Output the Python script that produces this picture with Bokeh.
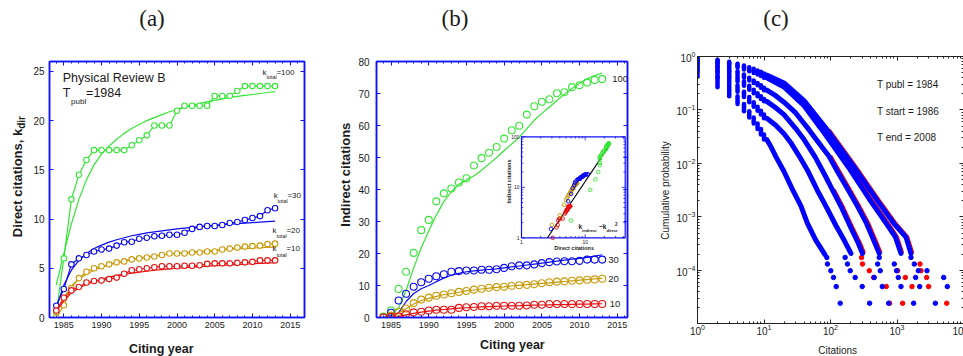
import math
from bokeh.plotting import figure
from bokeh.layouts import row, column
from bokeh.models import (Range1d, LogScale, LinearAxis, LogAxis, SingleIntervalTicker,
                          LogTicker, CustomJSTickFormatter)
from bokeh.embed import file_html
from bokeh.resources import INLINE
from bokeh.core.properties import value

SANS = "Liberation Sans"
SERIF = "Liberation Serif"
FRAME_BLUE = "#1010ff"
GREEN = "#33e633"
BLUE = "#0a0af0"
GOLD = "#c99a08"
RED = "#e81010"
INK = "#1a1a1a"
C_BLUE = "#0000ff"
C_RED = "#ff0000"

# ---------------- data ----------------
years = list(range(1984, 2014))

# (a) direct citations
dir_k100 = [0.5, 6, 12, 14.5, 16, 17, 17, 17, 17, 17, 17.5, 18, 18.5, 19.5, 19.5, 19.5, 21, 21.5,
            21.5, 21.5, 21.5, 22.5, 22.5, 22.5, 23, 23.5, 23.5, 23.5, 23.5, 23.5]
dir_k100_fit = [3.3, 6.5, 9.5, 12.0, 14.0, 15.5, 16.6, 17.4, 18.1, 18.7, 19.2, 19.6, 20.0, 20.3, 20.6,
                20.9, 21.1, 21.35, 21.55, 21.75, 21.9, 22.05, 22.2, 22.35, 22.45, 22.55, 22.65, 22.75,
                22.85, 22.95]
dir_k30 = [1.2, 2.9, 5.4, 6.0, 6.35, 6.7, 6.9, 7.0, 7.3, 7.65, 7.7, 8.0, 8.1, 8.25, 8.3, 8.4, 8.4, 8.6,
           9.0, 9.2, 9.3, 9.3, 9.4, 9.6, 9.7, 9.9, 10.1, 10.3, 10.9, 11.1]
dir_k30_fit = [1.0, 3.3, 4.8, 5.8, 6.5, 7.0, 7.35, 7.65, 7.9, 8.1, 8.3, 8.45, 8.6, 8.7, 8.8, 8.9, 9.0,
               9.08, 9.15, 9.22, 9.3, 9.36, 9.42, 9.48, 9.53, 9.58, 9.63, 9.68, 9.73, 9.78]
dir_k20 = [0.0, 1.25, 3.0, 4.0, 4.65, 5.0, 5.2, 5.4, 5.6, 5.7, 5.9, 6.0, 6.1, 6.2, 6.35, 6.5, 6.5, 6.5,
           6.6, 6.6, 6.7, 6.7, 6.9, 7.0, 7.1, 7.2, 7.25, 7.3, 7.45, 7.5]
dir_k20_fit = [0.6, 2.0, 3.2, 3.9, 4.4, 4.8, 5.1, 5.35, 5.55, 5.75, 5.9, 6.05, 6.15, 6.25, 6.35, 6.45,
               6.52, 6.6, 6.66, 6.72, 6.78, 6.83, 6.88, 6.93, 6.97, 7.01, 7.05, 7.09, 7.12, 7.15]
dir_k10 = [0.7, 2.0, 2.75, 3.1, 3.55, 3.7, 3.77, 3.9, 4.05, 4.45, 4.8, 4.9, 5.0, 5.1, 5.2, 5.2, 5.2,
           5.25, 5.25, 5.3, 5.45, 5.5, 5.5, 5.5, 5.55, 5.6, 5.65, 5.8, 5.8, 5.8]
dir_k10_fit = [0.6, 1.7, 2.5, 3.0, 3.35, 3.65, 3.9, 4.1, 4.25, 4.4, 4.5, 4.6, 4.7, 4.8, 4.87, 4.94, 5.0,
               5.06, 5.12, 5.17, 5.22, 5.26, 5.3, 5.34, 5.38, 5.42, 5.46, 5.5, 5.53, 5.56]

# (b) indirect citations
ind_k100 = [0.3, 2.2, 8.9, 14.3, 20.2, 27.3, 30.5, 36.3, 38.8, 40.3, 42.2, 43.5, 47.5, 49.8, 51.5,
            53.3, 55.9, 58.5, 59.9, 63.4, 66.0, 67.4, 68.2, 70.1, 70.4, 72.0, 72.6, 73.4, 74.2, 74.5]
ind_k100_fit = [0.0, 0.8, 3.0, 8.5, 15.5, 21.8, 27.0, 32.0, 36.2, 39.3, 41.6, 43.0, 44.3, 46.0, 48.0,
                50.0, 52.2, 54.2, 56.3, 59.0, 61.7, 63.8, 65.8, 67.8, 69.8, 71.6, 73.2, 74.6, 75.6, 76.4]
ind_k30 = [0.0, 1.5, 5.3, 7.4, 9.6, 11.0, 12.1, 12.9, 13.5, 14.3, 14.5, 14.7, 14.7, 14.9, 14.9, 15.1,
           15.5, 16.0, 16.3, 16.3, 16.6, 17.0, 17.3, 17.5, 17.6, 17.6, 17.7, 18.1, 18.1, 18.1]
ind_k30_fit = [0.0, 0.5, 1.5, 5.0, 7.5, 9.0, 10.0, 11.2, 12.3, 13.2, 13.8, 14.3, 14.6, 14.8, 15.0, 15.2,
               15.5, 15.8, 16.1, 16.4, 16.7, 17.0, 17.3, 17.6, 17.9, 18.2, 18.5, 18.8, 19.2, 19.6]
ind_k20 = [0.0, 0.6, 1.8, 2.8, 4.5, 5.6, 6.2, 6.8, 7.2, 7.6, 8.0, 8.3, 8.7, 9.0, 9.3, 9.5, 9.6, 9.9,
           10.1, 10.2, 10.4, 10.7, 11.0, 11.2, 11.3, 11.5, 11.6, 11.8, 11.9, 12.1]
ind_k20_fit = [0.0, 0.3, 1.5, 2.8, 4.2, 5.3, 6.0, 6.6, 7.1, 7.5, 7.9, 8.3, 8.6, 8.9, 9.2, 9.4, 9.6, 9.85,
               10.05, 10.25, 10.45, 10.65, 10.85, 11.05, 11.25, 11.45, 11.65, 11.85, 12.05, 12.25]
ind_k10 = [0.0, 0.2, 0.3, 1.0, 1.6, 1.8, 2.2, 2.4, 2.4, 2.4, 3.0, 3.2, 3.3, 3.5, 3.5, 3.65, 3.65, 3.65,
           3.65, 3.75, 4.0, 4.0, 4.2, 4.2, 4.2, 4.2, 4.2, 4.2, 4.2, 4.2]
ind_k10_fit = [0.0, 0.1, 0.3, 0.8, 1.3, 1.7, 2.0, 2.3, 2.5, 2.7, 2.9, 3.05, 3.2, 3.3, 3.4, 3.5, 3.6,
               3.65, 3.7, 3.8, 3.85, 3.9, 3.95, 4.0, 4.05, 4.1, 4.15, 4.2, 4.25, 4.3]

# inset: k_indirect ~ k_direct^2 guide line
guide_k = [2.56, 25.2]
guide_p = [1.0, 74.0]
inset_xticks = [1, 10]
inset_xminor = [2, 3, 4, 5, 6, 7, 8, 9, 20, 30, 40]
inset_yticks = [1, 10, 100]
inset_yminor = [2, 3, 4, 5, 6, 7, 8, 9, 20, 30, 40, 50, 60, 70, 80, 90]

# (c) cumulative distributions: P(>=k) for k = 1..11 (rank-plot columns)
head_k = list(range(1, 12))
head_c1 = [0.55, 0.42, 0.265, 0.18, 0.13, 0.095, 0.072, 0.056, 0.044, 0.035, 0.028]
head_c2 = [0.70, 0.55, 0.40, 0.29, 0.22, 0.175, 0.14, 0.115, 0.097, 0.082, 0.070]
head_c3 = [0.80, 0.65, 0.52, 0.42, 0.34, 0.285, 0.24, 0.205, 0.18, 0.16, 0.145]
head_c4 = [0.88, 0.75, 0.63, 0.53, 0.46, 0.40, 0.355, 0.32, 0.29, 0.26, 0.235]
head_c5 = [0.96, 0.84, 0.75, 0.68, 0.62, 0.57, 0.53, 0.49, 0.46, 0.43, 0.40]
head_c6 = [1.0, 0.87, 0.80, 0.73, 0.68, 0.63, 0.59, 0.55, 0.52, 0.48, 0.45]

body_c1_k = [11, 12.6, 15, 20, 27, 36, 45, 60, 82]
body_c1_p = [0.028, 0.021, 0.0136, 0.0071, 0.0032, 0.0016, 7.6e-4, 3.7e-4, 2.0e-4]
body_c2_k = [11, 15, 20, 25, 34, 45, 63, 85, 120, 160, 203]
body_c2_p = [0.070, 0.052, 0.036, 0.025, 0.0136, 0.0075, 0.0032, 0.0016, 7e-4, 3.7e-4, 2.08e-4]
body_c3_k = [11, 15, 20, 30, 40, 58, 80, 107, 143, 200, 260, 303]
body_c3_p = [0.145, 0.11, 0.082, 0.045, 0.028, 0.0136, 0.0065, 0.0032, 0.0016, 6.5e-4, 3.3e-4, 2.08e-4]
body_c4_k = [11, 15, 20, 30, 48, 70, 95, 130, 185, 254, 350, 450, 541]
body_c4_p = [0.235, 0.185, 0.14, 0.088, 0.042, 0.0225, 0.0136, 0.0068, 0.0032, 0.0016, 7.5e-4, 3.6e-4, 2.08e-4]
body_c5_k = [11, 20, 40, 75, 185, 400, 700, 950, 1148]
body_c5_p = [0.40, 0.27, 0.12, 0.042, 0.0086, 0.002, 7.4e-4, 4.2e-4, 2.08e-4]
body_c6_k = [11, 20, 40, 90, 227, 511, 911, 1365, 1622]
body_c6_p = [0.45, 0.32, 0.15, 0.042, 0.0086, 0.002, 7.4e-4, 4.2e-4, 2.08e-4]

red_c3_k = [110, 148, 207, 270, 315]
red_c3_p = [0.0032, 0.0016, 6.5e-4, 3.3e-4, 2.08e-4]
red_c4_k = [98, 192, 263, 365, 468, 560]
red_c4_p = [0.0136, 0.0032, 0.0016, 7.5e-4, 3.6e-4, 2.08e-4]
red_c5_k = [11, 20, 40, 78, 192, 415, 725, 980, 1180]
red_c5_p = [0.41, 0.28, 0.125, 0.042, 0.0086, 0.002, 7.4e-4, 4.2e-4, 2.08e-4]
red_c6_k = [93, 234, 528, 940, 1400, 1680]
red_c6_p = [0.042, 0.0086, 0.002, 7.4e-4, 4.2e-4, 2.08e-4]

tail_blue_k = [88, 90, 101, 111, 122, 140, 166, 180, 198, 235, 300, 387, 511, 541, 560, 455, 601, 748,
               910, 986, 1047, 1148, 1778, 1622, 1820, 2094, 1905, 2193, 3776, 2825, 5035, 5715]
tail_blue_p = [1.75e-4, 1.32e-4, 9.9e-5, 7.4e-5, 5.0e-5, 2.44e-5, 1.75e-4, 1.32e-4, 9.9e-5, 7.4e-5,
               5.0e-5, 2.44e-5, 1.32e-4, 1.75e-4, 9.9e-5, 7.4e-5, 5.0e-5, 2.44e-5, 1.32e-4, 9.9e-5,
               7.4e-5, 5.0e-5, 2.44e-5, 1.75e-4, 1.32e-4, 9.9e-5, 7.4e-5, 5.0e-5, 2.44e-5, 9.9e-5,
               7.4e-5, 5.0e-5]
tail_red_k = [293, 303, 383, 445, 690, 774, 1021, 1334, 1679, 1216, 2218, 2296, 2793, 2992, 5585]
tail_red_p = [1.75e-4, 1.32e-4, 9.9e-5, 7.4e-5, 5.0e-5, 2.44e-5, 9.9e-5, 7.4e-5, 5.0e-5, 2.44e-5,
              1.32e-4, 9.9e-5, 7.4e-5, 5.0e-5, 2.44e-5]

info_lines = ["T publ = 1984", "T start = 1986", "T end  = 2008"]


# ---------------- helpers ----------------
def style_axis(ax, color, size, standoff, labels=True, minor=True, lw=1.5):
    ax.axis_line_color = color
    ax.axis_line_width = lw
    ax.major_tick_line_color = color
    ax.major_tick_in = 4
    ax.major_tick_out = 0
    ax.minor_tick_line_color = color if minor else None
    ax.minor_tick_in = 2
    ax.minor_tick_out = 0
    ax.major_label_text_font = SANS
    ax.major_label_text_font_size = size
    ax.major_label_text_color = INK
    ax.major_label_standoff = standoff
    if not labels:
        ax.formatter = CustomJSTickFormatter(code="return '';")
        ax.major_label_standoff = 0


def lin_box(p, xint, yint, xsize, ysize, xstand, ystand):
    for side in ("below", "above"):
        ax = LinearAxis(ticker=SingleIntervalTicker(interval=xint, num_minor_ticks=5))
        style_axis(ax, FRAME_BLUE, xsize, xstand, labels=(side == "below"))
        p.add_layout(ax, side)
    for side in ("left", "right"):
        ax = LinearAxis(ticker=SingleIntervalTicker(interval=yint, num_minor_ticks=2))
        style_axis(ax, FRAME_BLUE, ysize, ystand, labels=(side == "left"), minor=False)
        p.add_layout(ax, side)


def txt(p, x, y, s, size, dx=0, dy=0, bold=False, align="left", angle=0, color=INK, font=SANS, **kw):
    p.text(x=[x], y=[y], text=[s], x_offset=dx, y_offset=dy, angle=angle,
           text_font=value(font), text_font_size=size,
           text_font_style="bold" if bold else "normal",
           text_align=align, text_baseline="middle", text_color=color, **kw)


def base_fig(fw, fh, xr, yr, ml, mr, mt, mb, **kw):
    p = figure(frame_width=fw, frame_height=fh, x_range=xr, y_range=yr,
               x_axis_location=None, y_axis_location=None,
               min_border_left=ml, min_border_right=mr, min_border_top=mt, min_border_bottom=mb,
               output_backend="svg", toolbar_location=None, **kw)
    p.xgrid.visible = False
    p.ygrid.visible = False
    p.background_fill_color = "white"
    p.border_fill_color = "white"
    return p


def strip(w, h):
    p = figure(width=w, height=h, x_range=Range1d(0, w), y_range=Range1d(0, h),
               x_axis_location=None, y_axis_location=None, min_border=0,
               output_backend="svg", toolbar_location=None)
    p.xgrid.visible = False
    p.ygrid.visible = False
    p.outline_line_color = None
    return p


TOP_H = 40
BODY_H = 356 - TOP_H

# ---------------- panel (a) ----------------
XA = Range1d(1983.1, 2016.9)
YA = Range1d(0, 26)
A_L, A_FW, A_R, A_T, A_FH, A_B = 17, 255, 33, 21, 256, 18
pa = base_fig(A_FW, A_FH, XA, YA, A_L, A_R, A_T, A_B)
pa.outline_line_color = FRAME_BLUE
pa.outline_line_width = 1.5
lin_box(pa, 5, 5, "9px", "10px", 4, 5)

series_a = [(dir_k100, dir_k100_fit, GREEN), (dir_k30, dir_k30_fit, BLUE),
            (dir_k20, dir_k20_fit, GOLD), (dir_k10, dir_k10_fit, RED)]
for vals, fit, col in series_a:
    pa.line(years, fit, line_color=col, line_width=1.2)
    pa.line(years, vals, line_color=col, line_width=1.2)
    pa.scatter(years, vals, marker="circle", size=5.5, line_color=col, fill_color="white",
               line_width=1.1)

txt(pa, 1984.86, 24.32, "Physical Review B", "12.5px")
txt(pa, 1984.86, 22.8, "T", "12.5px")
txt(pa, 1984.86, 22.8, "publ", "8px", dx=8.3, dy=8.3)
txt(pa, 1984.86, 22.8, "=1984", "12.5px", dx=23.3)

klabels = [(dir_k100, "=100", (-12.7, -14), (-8.7, -8.8), (1.3, -14)),
           (dir_k30, "=30", (-1.3, -12.3), (2.3, -7.0), (12.3, -12.3)),
           (dir_k20, "=20", (-2.7, -13.6), (1.3, -7.9), (11.3, -13.6)),
           (dir_k10, "=10", (-2.7, -12.0), (1.3, -5.7), (11.3, -12.0))]
for vals, num, dk, dt, dn in klabels:
    txt(pa, years[-1], vals[-1], "k", "8px", dx=dk[0], dy=dk[1])
    txt(pa, years[-1], vals[-1], "total", "5.5px", dx=dt[0], dy=dt[1])
    txt(pa, years[-1], vals[-1], num, "8px", dx=dn[0], dy=dn[1])

# ---------------- panel (b) ----------------
XB = Range1d(1983.07, 2016.35)
YB = Range1d(0, 80)
B_L, B_FW, B_R, B_T, B_FH, B_B = 21, 251, 25, 21, 256, 18
pb = base_fig(B_FW, B_FH, XB, YB, B_L, B_R, B_T, B_B)
pb.outline_line_color = FRAME_BLUE
pb.outline_line_width = 1.5
lin_box(pb, 5, 10, "9px", "10px", 4, 7)

series_b = [(ind_k100, ind_k100_fit, GREEN, "100", 10), (ind_k30, ind_k30_fit, BLUE, "30", 6),
            (ind_k20, ind_k20_fit, GOLD, "20", 6), (ind_k10, ind_k10_fit, RED, "10", 7.5)]
for vals, fit, col, name, off in series_b:
    pb.line(years, fit, line_color=col, line_width=1.2)
    pb.scatter(years, vals, marker="circle", size=7, line_color=col, fill_color=None,
               line_width=1.1)
    txt(pb, years[-1], vals[-1], name, "9.5px", dx=off)

# inset (log-log) placed inside the frame through extra log ranges
in_left, in_right, in_bottom, in_top = 145.0, 248.7, 79.7, 180.7
in_xmax, in_ymax = 42.5, 100.0
xdec = (in_right - in_left) / math.log10(in_xmax)
ydec = (in_top - in_bottom) / math.log10(in_ymax)
pb.extra_x_ranges = {"ix": Range1d(10 ** (-in_left / xdec), 10 ** ((B_FW - in_left) / xdec))}
pb.extra_y_ranges = {"iy": Range1d(10 ** (-in_bottom / ydec), 10 ** ((B_FH - in_bottom) / ydec))}
pb.extra_x_scales = {"ix": LogScale()}
pb.extra_y_scales = {"iy": LogScale()}
IN = dict(x_range_name="ix", y_range_name="iy")

pb.quad(left=[1], right=[in_xmax], bottom=[1], top=[in_ymax], fill_color="white",
        line_color=FRAME_BLUE, line_width=1.2, **IN)
pb.line(guide_k, guide_p, line_color="black", line_width=1.1, **IN)
pairs = [(dir_k10, ind_k10, RED), (dir_k20, ind_k20, GOLD), (dir_k30, ind_k30, BLUE),
         (dir_k100, ind_k100, GREEN)]
for dvals, ivals, col in pairs:
    keep = [(d, i) for d, i in zip(dvals, ivals) if 1 <= d <= in_xmax and 1 <= i <= in_ymax]
    pb.scatter([d for d, _ in keep], [i for _, i in keep], marker="circle", size=3.6,
               line_color=col, fill_color=None, line_width=0.9, **IN)
for t_list, ln in ((inset_xticks, 3.5), (inset_xminor, 1.8)):
    pb.ray(x=t_list, y=[1] * len(t_list), length=ln, length_units="screen", angle=math.pi / 2,
           line_color=FRAME_BLUE, line_width=0.8, **IN)
    pb.ray(x=t_list, y=[in_ymax] * len(t_list), length=ln, length_units="screen",
           angle=-math.pi / 2, line_color=FRAME_BLUE, line_width=0.8, **IN)
for t_list, ln in ((inset_yticks, 3.5), (inset_yminor, 1.8)):
    pb.ray(x=[1] * len(t_list), y=t_list, length=ln, length_units="screen", angle=0,
           line_color=FRAME_BLUE, line_width=0.8, **IN)
    pb.ray(x=[in_xmax] * len(t_list), y=t_list, length=ln, length_units="screen", angle=math.pi,
           line_color=FRAME_BLUE, line_width=0.8, **IN)
pb.text(x=inset_xticks, y=[1] * len(inset_xticks), text=[str(t) for t in inset_xticks],
        y_offset=4, text_font=value(SANS), text_font_size="5px", text_align="center",
        text_baseline="middle", text_color=INK, **IN)
pb.text(x=[1] * len(inset_yticks), y=inset_yticks, text=[str(t) for t in inset_yticks],
        x_offset=-2, text_font=value(SANS), text_font_size="5px", text_align="right",
        text_baseline="middle", text_color=INK, **IN)
txt(pb, 6.7, 1, "Direct citations", "5.5px", dy=9.7, bold=True, align="center", **IN)
txt(pb, 1, 13, "Indirect citations", "5.5px", dx=-13, bold=True, align="center",
    angle=math.pi / 2, **IN)
txt(pb, 7.85, 1.67, "k", "6.5px", bold=True, **IN)
txt(pb, 7.85, 1.67, "indirect", "4px", dx=3.6, dy=3.6, bold=True, **IN)
txt(pb, 7.85, 1.67, "~k", "6.5px", dx=20.5, bold=True, **IN)
txt(pb, 7.85, 1.67, "direct", "4px", dx=28, dy=3.6, bold=True, **IN)
txt(pb, 7.85, 1.67, "2", "4.5px", dx=36.5, dy=-3, bold=True, **IN)

# ---------------- panel (c) ----------------
XC = Range1d(1, 1e4)
YC = Range1d(1.02e-5, 1)
C_L, C_FW, C_R, C_T, C_FH, C_B = 22, 266, 4, 16, 267, 19
pc = base_fig(C_FW, C_FH, XC, YC, C_L, C_R, C_T, C_B, x_axis_type="log", y_axis_type="log")
pc.outline_line_color = "#222222"
pc.outline_line_width = 1
for side in ("below", "above"):
    ax = LogAxis(ticker=LogTicker(num_minor_ticks=10))
    style_axis(ax, "#222222", "10px", 0, labels=(side == "below"), lw=1)
    pc.add_layout(ax, side)
for side in ("left", "right"):
    ax = LogAxis(ticker=LogTicker(num_minor_ticks=10))
    style_axis(ax, "#222222", "10px", 2, labels=(side == "left"), lw=1)
    pc.add_layout(ax, side)

for ks, ps in ((red_c3_k, red_c3_p), (red_c4_k, red_c4_p), (red_c5_k, red_c5_p),
               (red_c6_k, red_c6_p)):
    pc.line(ks, ps, line_color=C_RED, line_width=5, line_join="round")
pc.scatter(tail_red_k, tail_red_p, marker="circle", size=4.5, color=C_RED)

heads = [head_c1, head_c2, head_c3, head_c4, head_c5, head_c6]
bodies = [(body_c1_k, body_c1_p), (body_c2_k, body_c2_p), (body_c3_k, body_c3_p),
          (body_c4_k, body_c4_p), (body_c5_k, body_c5_p), (body_c6_k, body_c6_p)]
for h in heads:
    pc.segment(x0=head_k[:-1], y0=h[:-1], x1=head_k[:-1], y1=h[1:], line_color=C_BLUE,
               line_width=4.5, line_cap="round")
for ks, ps in bodies:
    pc.line(ks, ps, line_color=C_BLUE, line_width=5, line_join="round", line_cap="round")
pc.scatter(tail_blue_k, tail_blue_p, marker="circle", size=4.5, color=C_BLUE)

pc.text(x=[500] * 3, y=[0.30, 0.095, 0.030], text=info_lines, text_font=value(SANS),
        text_font_size="10px", text_align="left", text_baseline="middle", text_color=INK)

# ---------------- titles and axis names (strips outside the plot frames) ----------------
top = strip(963, TOP_H)
for x, s in ((151.5, "(a)"), (454.5, "(b)"), (775.5, "(c)")):
    txt(top, x, 22.5, s, "23px", align="center", font=SERIF)

wa = A_L + A_FW + A_R
wb = B_L + B_FW + B_R
wc = C_L + C_FW + C_R
ha = A_T + A_FH + A_B
hb = B_T + B_FH + B_B
hc = C_T + C_FH + C_B

ba = strip(wa, BODY_H - ha)
txt(ba, 134.7, 7.5, "Citing year", "12.5px", bold=True, align="center")
bb = strip(wb, BODY_H - hb)
txt(bb, 160.8, 12, "Citing year", "12.5px", bold=True, align="center")
bc = strip(wc, BODY_H - hc)
txt(bc, 155, 6.5, "Citations", "10px", align="center")

ya = strip(30, BODY_H)
txt(ya, 16.7, 227.7, "Direct citations, k", "13px", bold=True, align="right", angle=math.pi / 2)
txt(ya, 21, 227.7, "dir", "10px", bold=True, align="left", angle=math.pi / 2)

yb = strip(18, BODY_H)
txt(yb, 7.7, 181.8, "Indirect citations", "13px", bold=True, align="center", angle=math.pi / 2)

yc = strip(21, BODY_H)
txt(yc, 12.7, 166, "Cumulative probability", "10px", align="center", angle=math.pi / 2)

layout = column(top, row(ya, column(pa, ba), yb, column(pb, bb), yc, column(pc, bc)))
open("out.html", "w").write(file_html(layout, INLINE))
